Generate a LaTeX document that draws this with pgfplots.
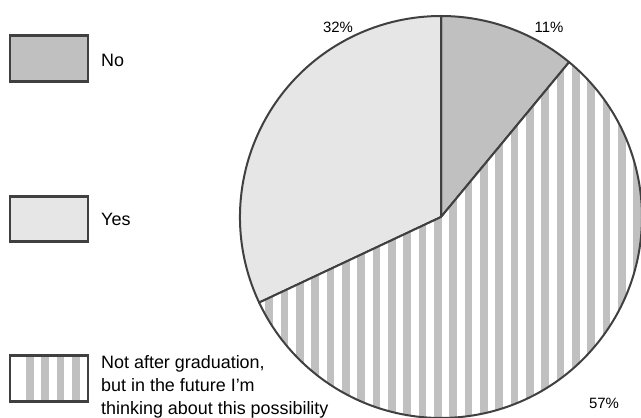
\documentclass[border=0pt]{standalone}
\usepackage{pgfplots}
\pgfplotsset{compat=1.18}
\usepackage{pgfplotstable}
\usepackage{fontspec}
\setmainfont{Liberation Sans}

% Survey answers, in percent, in the order they go round the pie (clockwise from the top)
\pgfplotstableread{
share
11
57
32
}\answers

\definecolor{edge}{HTML}{404040}
\definecolor{nofill}{HTML}{C0C0C0}
\definecolor{yesfill}{HTML}{E6E6E6}
\definecolor{stripe}{HTML}{C0C0C0}

\begin{document}
\begin{tikzpicture}
\pgfplotstablegetelem{0}{share}\of\answers \let\sNo\pgfplotsretval
\pgfplotstablegetelem{1}{share}\of\answers \let\sFut\pgfplotsretval
\pgfplotstablegetelem{2}{share}\of\answers \let\sYes\pgfplotsretval
\pgfmathsetmacro{\aA}{90}
\pgfmathsetmacro{\aB}{\aA-3.6*\sNo}
\pgfmathsetmacro{\aC}{\aB-3.6*\sFut}
\pgfmathsetmacro{\aD}{\aC-3.6*\sYes}
\begin{axis}[
  width=641bp, height=418bp, scale only axis,
  xmin=0, xmax=641, ymin=0, ymax=418,
  hide axis, clip=true,
]
\def\R{201bp}
\coordinate (c) at (axis cs:441,201);
% "No" slice
\filldraw[fill=nofill, draw=edge, line width=2bp, line join=round]
  (c) -- ++(\aA:\R) arc[start angle=\aA, end angle=\aB, radius=\R] -- cycle;
% "Yes" slice
\filldraw[fill=yesfill, draw=edge, line width=2bp, line join=round]
  (c) -- ++(\aC:\R) arc[start angle=\aC, end angle=\aD, radius=\R] -- cycle;
% striped slice
\begin{scope}
  \clip (c) -- ++(\aB:\R) arc[start angle=\aB, end angle=\aC, radius=\R] -- cycle;
  \fill[white] (axis cs:0,0) rectangle (axis cs:641,418);
  \pgfplotsinvokeforeach{-16,...,11}{
    \fill[stripe] (axis cs:{480+15.33*(#1)},0) rectangle (axis cs:{487.7+15.33*(#1)},418);
  }
\end{scope}
\draw[edge, line width=2bp, line join=round]
  (c) -- ++(\aB:\R) arc[start angle=\aB, end angle=\aC, radius=\R] -- cycle;

% value labels
\node[anchor=base, inner sep=0, font=\fontsize{15}{18}\selectfont] at (axis cs:549,385.6) {\sNo\%};
\node[anchor=base, inner sep=0, font=\fontsize{15}{18}\selectfont] at (axis cs:338,385.6) {\sYes\%};
\node[anchor=base, inner sep=0, font=\fontsize{15}{18}\selectfont] at (axis cs:604,9.6) {\sFut\%};

% legend
\filldraw[fill=nofill, draw=edge, line width=2.5bp] (axis cs:10,336.5) rectangle (axis cs:88,382.5);
\filldraw[fill=yesfill, draw=edge, line width=2.5bp] (axis cs:10,176.5) rectangle (axis cs:88,221.5);
\fill[white] (axis cs:10,16.5) rectangle (axis cs:88,62.5);
\pgfplotsinvokeforeach{26,41.3,56.6,72}{
  \fill[stripe] (axis cs:#1,16.5) rectangle (axis cs:{#1+7.6},62.5);
}
\draw[edge, line width=2.5bp] (axis cs:10,16.5) rectangle (axis cs:88,62.5);

\node[anchor=base west, inner sep=0, font=\fontsize{18}{22}\selectfont] at (axis cs:101,351.3) {No};
\node[anchor=base west, inner sep=0, font=\fontsize{18}{22}\selectfont] at (axis cs:101,192.5) {Yes};
\node[anchor=base west, inner sep=0, font=\fontsize{18}{22}\selectfont] at (axis cs:101,49) {Not after graduation,};
\node[anchor=base west, inner sep=0, font=\fontsize{18}{22}\selectfont] at (axis cs:101,26.5) {but in the future I’m};
\node[anchor=base west, inner sep=0, font=\fontsize{18}{22}\selectfont] at (axis cs:101,4) {thinking about this possibility};
\end{axis}
% the page is exactly the axis area
\pgfresetboundingbox
\useasboundingbox (0,0) rectangle (641bp,418bp);
\end{tikzpicture}
\end{document}
